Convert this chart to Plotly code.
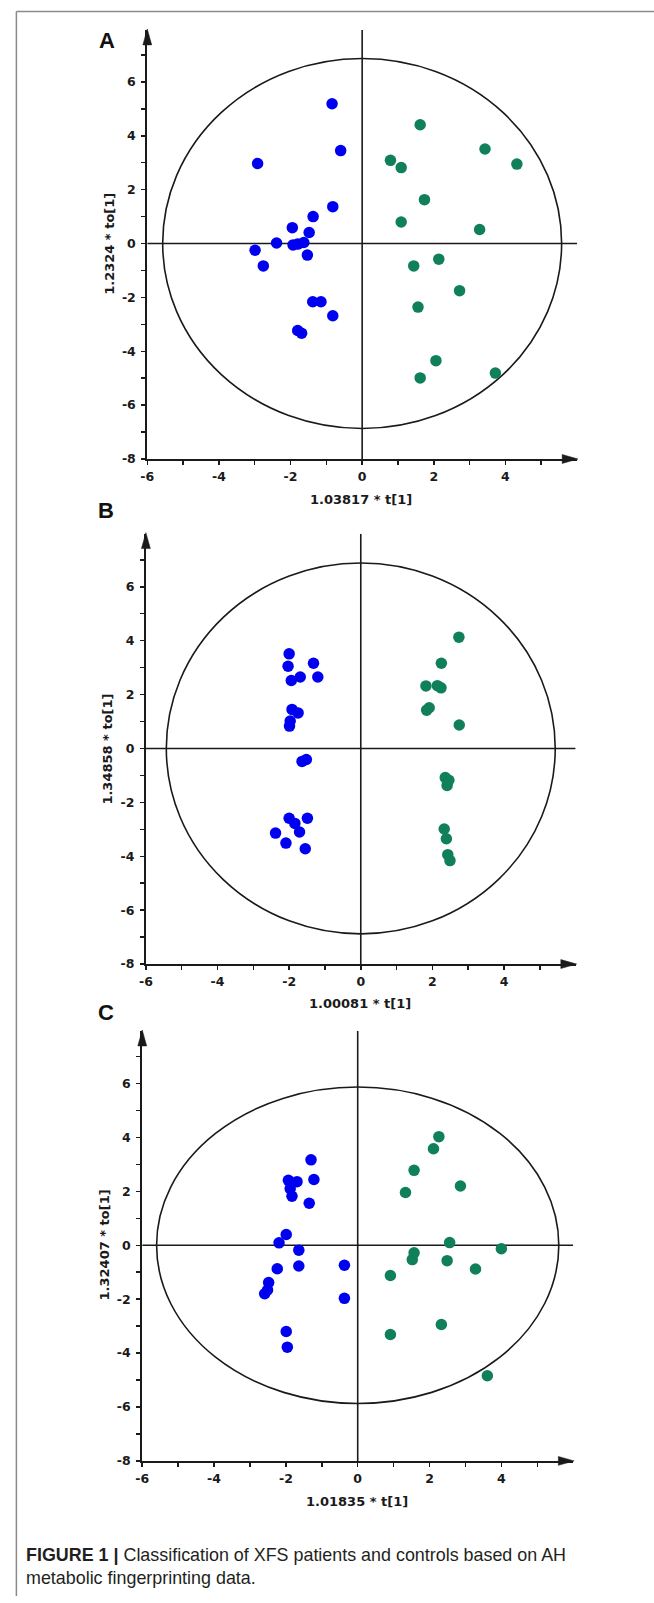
import plotly.graph_objects as go

# ---------------- data ----------------
a_blue_x = [-0.84, -0.60, -2.92, -0.82, -1.37, -1.95, -1.48, -2.39, -1.93, -1.80, -1.63, -2.99, -1.53, -2.76, -1.38, -1.15, -0.82, -1.80, -1.69]
a_blue_y = [5.19, 3.45, 2.97, 1.37, 1.00, 0.59, 0.41, 0.02, -0.05, -0.02, 0.04, -0.25, -0.43, -0.83, -2.16, -2.16, -2.68, -3.23, -3.33]
a_green_x = [1.62, 3.43, 0.79, 1.09, 4.32, 1.74, 1.09, 3.28, 2.14, 1.44, 2.72, 1.56, 2.06, 3.72, 1.62]
a_green_y = [4.41, 3.51, 3.09, 2.82, 2.95, 1.63, 0.80, 0.52, -0.58, -0.83, -1.75, -2.36, -4.35, -4.81, -4.99]

b_blue_x = [-2.00, -2.03, -1.32, -1.20, -1.69, -1.94, -1.92, -1.75, -1.97, -1.99, -1.52, -1.64, -2.00, -1.49, -1.84, -2.38, -1.71, -2.09, -1.55]
b_blue_y = [3.51, 3.05, 3.16, 2.65, 2.65, 2.52, 1.45, 1.32, 1.02, 0.83, -0.41, -0.48, -2.59, -2.59, -2.78, -3.14, -3.10, -3.51, -3.72]
b_green_x = [2.74, 2.25, 1.82, 2.14, 2.24, 1.91, 1.84, 2.75, 2.36, 2.46, 2.41, 2.33, 2.39, 2.43, 2.49]
b_green_y = [4.13, 3.16, 2.32, 2.33, 2.25, 1.51, 1.42, 0.87, -1.08, -1.18, -1.37, -2.99, -3.35, -3.94, -4.16]

c_blue_x = [-1.30, -1.22, -1.93, -1.69, -1.88, -1.83, -1.35, -1.99, -2.19, -1.64, -1.64, -2.24, -0.37, -2.48, -2.51, -2.59, -0.37, -1.99, -1.96]
c_blue_y = [3.17, 2.44, 2.41, 2.36, 2.10, 1.82, 1.56, 0.40, 0.09, -0.18, -0.77, -0.87, -0.74, -1.38, -1.66, -1.80, -1.97, -3.20, -3.78]
c_green_x = [2.26, 2.11, 1.57, 2.86, 1.33, 2.56, 4.00, 1.57, 1.52, 2.49, 3.28, 0.91, 2.33, 0.91, 3.61]
c_green_y = [4.03, 3.58, 2.78, 2.20, 1.96, 0.10, -0.13, -0.28, -0.53, -0.57, -0.88, -1.12, -2.94, -3.31, -4.84]

# Hotelling ellipse semi-axes (x, y)
ellipse_a = [5.57, 6.87]
ellipse_b = [5.43, 6.88]
ellipse_c = [5.60, 5.87]

panel_letters = ["A", "B", "C"]
x_titles = ["1.03817 * t[1]", "1.00081 * t[1]", "1.01835 * t[1]"]
y_titles = ["1.2324 * to[1]", "1.34858 * to[1]", "1.32407 * to[1]"]
x_tickvals = [-6, -4, -2, 0, 2, 4]
x_minorvals = [-5, -3, -1, 1, 3, 5]
y_tickvals = [-8, -6, -4, -2, 0, 2, 4, 6]
y_minorvals = [-7, -5, -3, -1, 1, 3, 5, 7]
caption = ("<b>FIGURE 1 |</b> Classification of XFS patients and controls based on AH"
           "<br>metabolic fingerprinting data.")

# ---------------- layout constants ----------------
W, H = 654, 1603
BLUE = "#0000f0"
GREEN = "#10805a"
INK = "#1a1a1a"
TICKFONT = "DejaVu Sans, Verdana, sans-serif"

# pixel geometry of each panel
panels = [
    dict(xl=141.8, sx=36.2, yb=461.0, ytop=7.93, sy=27.05, letter=(101, 41), xt=(357.5, 502), yt=(104, 245)),
    dict(xl=140.4, sx=36.2, yb=968.3, ytop=7.97, sy=27.07, letter=(100, 513), xt=(357.0, 1008), yt=(102, 752)),
    dict(xl=136.7, sx=36.3, yb=1467.3, ytop=7.95, sy=27.07, letter=(100, 1017), xt=(354.0, 1508.5), yt=(99, 1250)),
]
XMIN, XMAX, YMIN = -6, 6.0, -8
ARROW_LEN, ARROW_HALF = 15.0, 4.5  # px


def px(xp):
    return xp / W


def py(yp):
    return 1 - yp / H


series = [
    (a_blue_x, a_blue_y, a_green_x, a_green_y, ellipse_a),
    (b_blue_x, b_blue_y, b_green_x, b_green_y, ellipse_b),
    (c_blue_x, c_blue_y, c_green_x, c_green_y, ellipse_c),
]

fig = go.Figure()
shapes = []
annotations = []
layout_axes = {}

for i, (p, s) in enumerate(zip(panels, series)):
    n = "" if i == 0 else str(i + 1)
    xa, ya = "x" + n, "y" + n
    bx, by, gx, gy, ell = s
    fig.add_trace(go.Scatter(x=bx, y=by, mode="markers", xaxis=xa, yaxis=ya,
                             marker=dict(color=BLUE, size=11.5, line=dict(width=0)),
                             showlegend=False, hoverinfo="skip", cliponaxis=False))
    fig.add_trace(go.Scatter(x=gx, y=gy, mode="markers", xaxis=xa, yaxis=ya,
                             marker=dict(color=GREEN, size=11.5, line=dict(width=0)),
                             showlegend=False, hoverinfo="skip", cliponaxis=False))

    x0p = p["xl"]; x1p = p["xl"] + (XMAX - XMIN) * p["sx"]
    y0p = p["yb"]; y1p = p["yb"] - (p["ytop"] - YMIN) * p["sy"]
    xdom = [px(x0p), px(x1p)]
    ydom = [py(y0p), py(y1p)]

    axfont = dict(family=TICKFONT, size=12.5, color=INK, weight="bold")
    layout_axes["xaxis" + n] = dict(
        domain=xdom, range=[XMIN, XMAX], anchor=ya, showgrid=False, zeroline=False,
        showline=True, linecolor=INK, linewidth=2,
        tickmode="array", tickvals=x_tickvals, ticktext=[str(v) for v in x_tickvals],
        ticks="outside", ticklen=4, tickwidth=1.5, tickcolor=INK, tickfont=axfont,
        ticklabelstandoff=1,
        minor=dict(tickmode="array", tickvals=x_minorvals, ticks="outside", ticklen=4,
                   tickwidth=1.5, tickcolor=INK, showgrid=False),
        fixedrange=True)
    layout_axes["yaxis" + n] = dict(
        domain=ydom, range=[YMIN, p["ytop"]], anchor=xa, showgrid=False, zeroline=False,
        showline=True, linecolor=INK, linewidth=2,
        tickmode="array", tickvals=y_tickvals, ticktext=[str(v) for v in y_tickvals],
        ticks="outside", ticklen=4, tickwidth=1.5, tickcolor=INK, tickfont=axfont,
        ticklabelstandoff=3,
        minor=dict(tickmode="array", tickvals=y_minorvals, ticks="outside", ticklen=4,
                   tickwidth=1.5, tickcolor=INK, showgrid=False),
        fixedrange=True)

    # ellipse
    shapes.append(dict(type="circle", xref=xa, yref=ya, x0=-ell[0], x1=ell[0], y0=-ell[1], y1=ell[1],
                       line=dict(color=INK, width=1.6), layer="below"))
    # cross lines
    shapes.append(dict(type="line", xref=xa, yref=ya, x0=XMIN, x1=XMAX, y0=0, y1=0,
                       line=dict(color=INK, width=1.6), layer="below"))
    shapes.append(dict(type="line", xref=xa, yref=ya, x0=0, x1=0, y0=YMIN, y1=p["ytop"],
                       line=dict(color=INK, width=1.6), layer="below"))
    # arrow heads in paper coordinates (not clipped by the plot area)
    shapes.append(dict(type="path", xref="paper", yref="paper",
                       path="M %f %f L %f %f L %f %f Z" % (
                           px(x0p), py(y1p - 1),
                           px(x0p - ARROW_HALF), py(y1p + ARROW_LEN),
                           px(x0p + ARROW_HALF), py(y1p + ARROW_LEN)),
                       fillcolor=INK, line=dict(color=INK, width=0.5)))
    shapes.append(dict(type="path", xref="paper", yref="paper",
                       path="M %f %f L %f %f L %f %f Z" % (
                           px(x1p + 1), py(y0p),
                           px(x1p - ARROW_LEN), py(y0p - ARROW_HALF),
                           px(x1p - ARROW_LEN), py(y0p + ARROW_HALF)),
                       fillcolor=INK, line=dict(color=INK, width=0.5)))

    # panel letter
    annotations.append(dict(text="<b>%s</b>" % panel_letters[i], xref="paper", yref="paper",
                            x=px(p["letter"][0]), y=py(p["letter"][1]), xanchor="center", yanchor="middle",
                            showarrow=False, font=dict(family="Liberation Sans, Arial, sans-serif", size=22, color="#111")))
    # axis titles
    annotations.append(dict(text="<b>%s</b>" % x_titles[i], xref="paper", yref="paper",
                            x=px(p["xt"][0]), y=py(p["xt"][1]), xanchor="center", yanchor="middle",
                            showarrow=False, font=dict(family=TICKFONT, size=13, color=INK)))
    annotations.append(dict(text="<b>%s</b>" % y_titles[i], xref="paper", yref="paper", textangle=-90,
                            x=px(p["yt"][0]), y=py(p["yt"][1]), xanchor="center", yanchor="middle",
                            showarrow=False, font=dict(family=TICKFONT, size=13, color=INK)))

# figure border (top and left rules)
shapes.append(dict(type="line", xref="paper", yref="paper", x0=px(9.5), x1=1, y0=py(11.5), y1=py(11.5),
                   line=dict(color="#8a8a8a", width=1.5)))
shapes.append(dict(type="line", xref="paper", yref="paper", x0=px(9.5), x1=px(9.5), y0=0, y1=py(11.5),
                   line=dict(color="#8a8a8a", width=1.5)))

# caption
annotations.append(dict(text=caption, xref="paper", yref="paper", x=px(17), y=py(1550),
                        xanchor="left", yanchor="top", align="left", showarrow=False,
                        font=dict(family="Liberation Sans, Arial, sans-serif", size=17.9, color="#231f20")))

fig.update_layout(width=W, height=H, margin=dict(l=0, r=0, t=0, b=0),
                  paper_bgcolor="white", plot_bgcolor="white",
                  shapes=shapes, annotations=annotations, showlegend=False, **layout_axes)

fig.write_html("out.html", config={"displayModeBar": False, "staticPlot": True},
               post_script="document.body.style.margin='0';")
